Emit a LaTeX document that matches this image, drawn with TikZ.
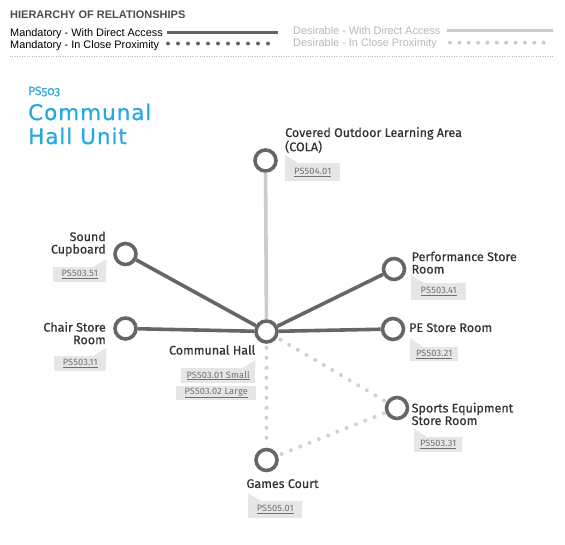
\documentclass[tikz,border=0pt]{standalone}
\usepackage{fontspec}
\setmainfont{Liberation Sans}
\newfontfamily\lblfont{Fira Sans}[FakeBold=0.45]
\newfontfamily\tagfont{Fira Sans}[LetterSpace=2]
\newfontfamily\titlefont{DejaVu Sans}[LetterSpace=4.5,FakeBold=0.8]
\newfontfamily\psfont{Fira Sans}[Numbers=OldStyle,FakeBold=0.4]
\definecolor{dkline}{HTML}{666666}
\definecolor{ltline}{HTML}{CCCCCC}
\definecolor{ltdot}{HTML}{D0D0D0}
\definecolor{tagfill}{HTML}{E6E6E6}
\definecolor{tagtext}{HTML}{707070}
\definecolor{lbltext}{HTML}{333333}
\definecolor{titleblue}{HTML}{2AA9E0}
\definecolor{headgray}{HTML}{4D4D4D}
\definecolor{desgray}{HTML}{B8B8B8}
\tikzset{
  room/.style={circle, draw=dkline, line width=3.6pt, fill=white, minimum size=21pt, inner sep=0pt},
  mandline/.style={draw=dkline, line width=3.6pt},
  desline/.style={draw=ltline, line width=3.6pt},
  desdots/.style={draw=ltdot, line width=4pt, line cap=round, dash pattern=on 0pt off 10pt, dash phase=6pt},
  lbl/.style={font=\lblfont\fontsize{12.5}{12.5}\selectfont, text=lbltext, inner sep=0pt},
  tagbox/.style={fill=tagfill, inner sep=0pt, font=\tagfont\fontsize{9.2}{9.5}\selectfont, text=tagtext},
  legtext/.style={font=\fontsize{10.9}{12}\selectfont, inner sep=0pt, anchor=base west},
  legsolid/.style={line width=3.4pt},
  legdots/.style={line width=4pt, line cap=round},
}
\begin{document}
\begin{tikzpicture}[x=1pt,y=-1pt]
\useasboundingbox (0,0) rectangle (565,544);
\fill[white] (0,0) rectangle (565,544);

% ---------- legend ----------
\node[legtext, font=\bfseries\fontsize{11}{12}\selectfont, text=headgray] (head) at (10,18.3) {HIERARCHY OF RELATIONSHIPS};
\node[legtext, text=black] (m1) at (10,36.5) {Mandatory - With Direct Access};
\node[legtext, text=black] (m2) at (10,48) {Mandatory - In Close Proximity};
\node[legtext, text=desgray] (d1) at (293,34.5) {Desirable - With Direct Access};
\node[legtext, text=desgray] (d2) at (293,46.5) {Desirable - In Close Proximity};
\coordinate (m1a) at (167,32.3); \coordinate (m1b) at (278,32.3);
\coordinate (m2a) at (168,43.5); \coordinate (m2b) at (278,43.5);
\coordinate (d1a) at (447,30.3); \coordinate (d1b) at (553,30.3);
\coordinate (d2a) at (450,42.7); \coordinate (d2b) at (553,42.7);
\draw[legsolid, dkline] (m1a) -- (m1b);
\draw[legdots, dkline, dash pattern=on 0pt off 10pt] (m2a) -- (m2b);
\draw[legsolid, ltline] (d1a) -- (d1b);
\draw[legdots, ltline, dash pattern=on 0pt off 9.364pt] (d2a) -- (d2b);
\coordinate (sepa) at (10,56); \coordinate (sepb) at (553,56);
\draw[desgray, line width=0.8pt, dash pattern=on 0.8pt off 1.6pt] (sepa) -- (sepb);

% ---------- title ----------
\node[inner sep=0pt, anchor=base west, text=titleblue, font=\psfont\fontsize{12}{12}\selectfont] (code) at (28,95) {PS503};
\node[inner sep=0pt, anchor=north west, align=left, text=titleblue, font=\titlefont\fontsize{21.5}{24}\selectfont] (title) at (28,103.5) {Communal\\Hall Unit};

% ---------- rooms ----------
\node[room] (hub) at (266.5,331.5) {};
\node[room] (cola) at (265.5,160.5) {};
\node[room] (snd) at (125.5,254) {};
\node[room] (chair) at (125.5,328.5) {};
\node[room] (perf) at (394,269) {};
\node[room] (pe) at (393,329) {};
\node[room] (sport) at (397,408) {};
\node[room] (games) at (266.5,460) {};

% ---------- connectors ----------
\draw[desline] (hub) -- (cola);
\draw[mandline] (hub) -- (snd);
\draw[mandline] (hub) -- (chair);
\draw[mandline] (hub) -- (perf);
\draw[mandline] (hub) -- (pe);
\draw[desdots] (hub) -- (sport);
\draw[desdots] (hub) -- (games);
\draw[desdots] (games) -- (sport);

% ---------- labels ----------
\node[lbl, anchor=north west, align=left] (lcola) at (285,127) {Covered Outdoor Learning Area\\(COLA)};
\node[lbl, anchor=north east, align=right] (lsnd) at (106,231.5) {Sound\\Cupboard};
\node[lbl, anchor=north east, align=right] (lchair) at (106,321.7) {Chair Store\\Room};
\node[lbl, anchor=north east, align=right] (lhub) at (255.5,345) {Communal Hall};
\node[lbl, anchor=north west, align=left] (lperf) at (411.5,251.5) {Performance Store\\Room};
\node[lbl, anchor=north west, align=left] (lpe) at (409,323) {PE Store Room};
\node[lbl, anchor=north west, align=left] (lsport) at (411.5,402.5) {Sports Equipment\\Store Room};
\node[lbl, anchor=north] (lgames) at (282.5,479) {Games Court};

% ---------- tags ----------
\node[tagbox, anchor=north west, minimum width=55pt, minimum height=18pt] (t504) at (285,163) {\underline{PS504.01}};
\fill[tagfill] (t504.north west) -- ++(0,-8) -- ++(13,8) -- cycle;
\node[tagbox, anchor=north west, minimum width=53pt, minimum height=15pt] (t51) at (53,267) {\underline{PS503.51}};
\fill[tagfill] (t51.north east) -- ++(0,-8) -- ++(-13,8) -- cycle;
\node[tagbox, anchor=north west, minimum width=52pt, minimum height=15pt] (t11) at (54,356) {\underline{PS503.11}};
\fill[tagfill] (t11.north east) -- ++(0,-8) -- ++(-13,8) -- cycle;
\node[tagbox, anchor=north west, minimum width=74pt, minimum height=15pt] (t01) at (181,368) {\underline{PS503.01 Small}};
\fill[tagfill] (t01.north east) -- ++(0,-8) -- ++(-13,8) -- cycle;
\node[tagbox, anchor=north west, minimum width=80pt, minimum height=13.5pt] (t02) at (176,386) {\underline{PS503.02 Large}};
\node[tagbox, anchor=north west, minimum width=55pt, minimum height=17pt] (t41) at (411,283) {\underline{PS503.41}};
\fill[tagfill] (t41.north west) -- ++(0,-8) -- ++(13,8) -- cycle;
\node[tagbox, anchor=north west, minimum width=48pt, minimum height=14pt] (t21) at (410,347) {\underline{PS503.21}};
\fill[tagfill] (t21.north west) -- ++(0,-9) -- ++(13,9) -- cycle;
\node[tagbox, anchor=north west, minimum width=48pt, minimum height=15pt] (t31) at (414,437) {\underline{PS503.31}};
\fill[tagfill] (t31.north west) -- ++(0,-8) -- ++(13,8) -- cycle;
\node[tagbox, anchor=north west, minimum width=54pt, minimum height=17pt] (t505) at (248,501) {\underline{PS505.01}};
\fill[tagfill] (t505.north west) -- ++(0,-8) -- ++(13,8) -- cycle;
\end{tikzpicture}
\end{document}
